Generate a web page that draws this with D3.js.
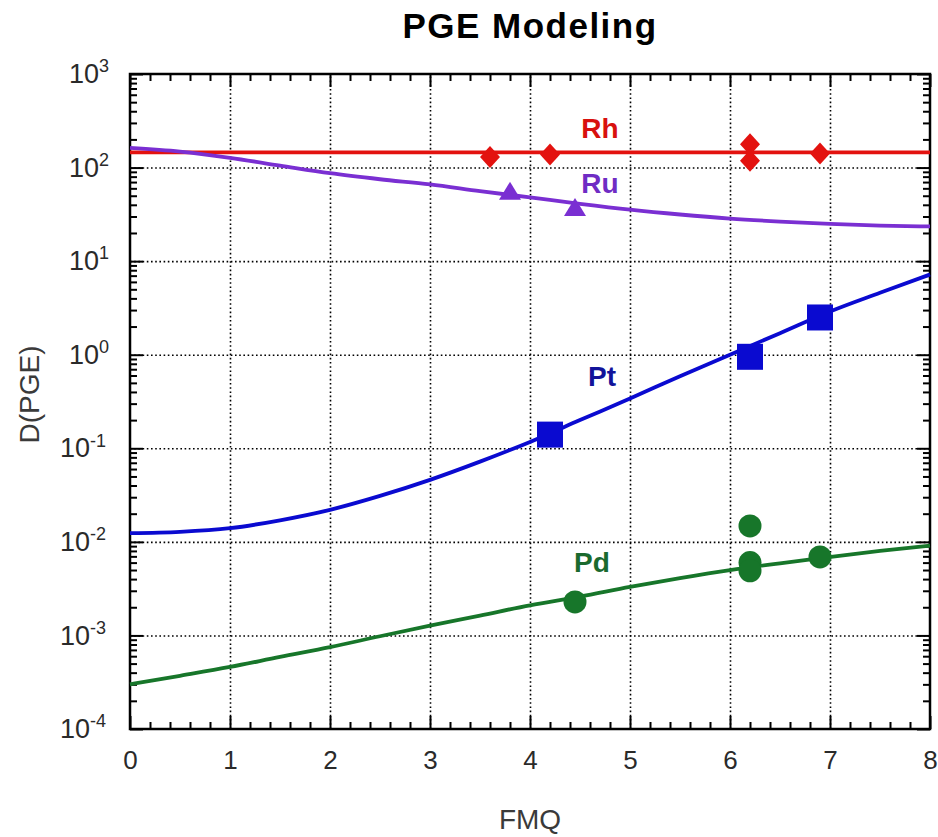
<!DOCTYPE html>
<html>
<head>
<meta charset="utf-8">
<script src="https://cdn.jsdelivr.net/npm/d3@7"></script>
<style>
  body { margin: 0; background: #fff; }
  text { font-family: "Liberation Sans", Arial, sans-serif; }
  .grid line { stroke: #000; stroke-width: 1.6; stroke-dasharray: 1.6 2.6; }
  .grid path { display: none; }
  .axis path { display: none; }
  .axis line { stroke: #000; stroke-width: 2; }
  .axis text { fill: #2a2a2a; font-size: 26px; }
</style>
</head>
<body>
<div id="chart"></div>
<script>
// Model curves (FMQ vs partition coefficient)
var fmq = [0, 0.5, 1, 1.5, 2, 2.5, 3, 3.5, 4, 4.5, 5, 5.5, 6, 6.5, 7, 7.5, 8];
var rhModel = [145, 145, 145, 145, 145, 145, 145, 145, 145, 145, 145, 145, 145, 145, 145, 145, 145];
var ruModel = [162, 148, 127, 105, 87, 75, 66, 56, 48, 41, 35.5, 31.5, 28.5, 26.5, 25, 24, 23.5];
var ptModel = [0.0124, 0.0128, 0.014, 0.017, 0.022, 0.031, 0.046, 0.072, 0.117, 0.2, 0.34, 0.59, 1.0, 1.7, 2.9, 4.6, 7.2];
var pdModel = [0.0003, 0.00037, 0.00046, 0.00059, 0.00075, 0.00098, 0.00127, 0.00163, 0.0021, 0.0026, 0.0033, 0.0041, 0.005, 0.0059, 0.0069, 0.008, 0.0091];

// Measured points
var rhX = [3.6, 4.2, 6.2, 6.2, 6.9];
var rhY = [130, 138, 178, 118, 141];
var ruX = [3.8, 4.45];
var ruY = [55, 37];
var ptX = [4.2, 6.2, 6.9];
var ptY = [0.14, 0.95, 2.5];
var pdX = [4.45, 6.2, 6.2, 6.2, 6.9];
var pdY = [0.00228, 0.0148, 0.006, 0.0049, 0.0069];

// Curve labels
var labelNames = ["Rh", "Ru", "Pt", "Pd"];
var labelX = [4.7, 4.7, 4.72, 4.62];
var labelY = [265, 68, 0.6, 0.0061];

var xTicks = [0, 1, 2, 3, 4, 5, 6, 7, 8];
var yTicks = [1e-4, 1e-3, 1e-2, 1e-1, 1, 10, 100, 1000];

var colors = {
  Rh: "#e3120f",
  Ru: "#7a2fd2",
  Pt: "#0a0ad0",
  Pd: "#17762a"
};
var labelColors = {
  Rh: "#d8110e",
  Ru: "#6f2cc4",
  Pt: "#12139a",
  Pd: "#1a6a2e"
};

var margin = { top: 74, right: 8, bottom: 108, left: 130 };
var W = 938, H = 837;
var width = W - margin.left - margin.right;
var height = H - margin.top - margin.bottom;

var svg = d3.select("#chart").append("svg")
    .attr("width", W)
    .attr("height", H);

var g = svg.append("g")
    .attr("transform", "translate(" + margin.left + "," + margin.top + ")");

var x = d3.scaleLinear().domain([0, 8]).range([0, width]);
var y = d3.scaleLog().domain([1e-4, 1e3]).range([height, 0]);

// minor ticks
var xMinor = d3.range(0, 8.01, 0.2).filter(function(v) { return Math.abs(v - Math.round(v)) > 1e-6; });
var yMinor = [];
for (var e = -4; e < 3; e++) {
  for (var m = 2; m <= 9; m++) yMinor.push(m * Math.pow(10, e));
}

// Grid
g.append("g").attr("class", "grid")
  .attr("transform", "translate(0," + height + ")")
  .call(d3.axisBottom(x).tickValues(xTicks.slice(1, -1)).tickSize(-height).tickFormat(""));
g.append("g").attr("class", "grid")
  .call(d3.axisLeft(y).tickValues(yTicks.slice(1, -1)).tickSize(-width).tickFormat(""));

// Inside ticks on all four sides
g.append("g").attr("class", "axis")
  .attr("transform", "translate(0," + height + ")")
  .call(d3.axisBottom(x).tickValues(xTicks).tickSizeInner(-13).tickPadding(22).tickFormat(d3.format("d")));
g.append("g").attr("class", "axis")
  .attr("transform", "translate(0," + height + ")")
  .call(d3.axisBottom(x).tickValues(xMinor).tickSize(-7).tickFormat(""));
g.append("g").attr("class", "axis")
  .call(d3.axisTop(x).tickValues(xTicks).tickSize(-13).tickFormat(""));
g.append("g").attr("class", "axis")
  .call(d3.axisTop(x).tickValues(xMinor).tickSize(-7).tickFormat(""));

var yAxis = g.append("g").attr("class", "axis")
  .call(d3.axisLeft(y).tickValues(yTicks).tickSizeInner(-13).tickFormat(""));
g.append("g").attr("class", "axis")
  .call(d3.axisLeft(y).tickValues(yMinor).tickSize(-7).tickFormat(""));
g.append("g").attr("class", "axis")
  .attr("transform", "translate(" + width + ",0)")
  .call(d3.axisRight(y).tickValues(yTicks).tickSize(-13).tickFormat(""));
g.append("g").attr("class", "axis")
  .attr("transform", "translate(" + width + ",0)")
  .call(d3.axisRight(y).tickValues(yMinor).tickSize(-7).tickFormat(""));

// y tick labels as 10 with superscript exponent
yAxis.selectAll(".tick text").each(function(d) {
  var t = d3.select(this);
  var ex = Math.round(Math.log10(d));
  t.text(null).attr("text-anchor", "start").attr("dy", "0.32em")
    .attr("x", ex < 0 ? -70 : -61)
    .style("font-size", "27px");
  t.append("tspan").text("10");
  t.append("tspan").attr("dy", "-0.6em").style("font-size", "18px").text(ex);
});

// Frame
g.append("rect")
  .attr("width", width)
  .attr("height", height)
  .attr("fill", "none")
  .attr("stroke", "#000")
  .attr("stroke-width", 2.5);

// Model lines
var line = d3.line()
  .x(function(d) { return x(d[0]); })
  .y(function(d) { return y(d[1]); })
  .curve(d3.curveMonotoneX);

var models = [["Rh", rhModel], ["Ru", ruModel], ["Pt", ptModel], ["Pd", pdModel]];
models.forEach(function(m) {
  g.append("path")
    .datum(fmq.map(function(v, i) { return [v, m[1][i]]; }))
    .attr("fill", "none")
    .attr("stroke", colors[m[0]])
    .attr("stroke-width", 3.8)
    .attr("d", line);
});

// Markers
function pts(xs, ys) { return xs.map(function(v, i) { return [v, ys[i]]; }); }

g.selectAll(".rh").data(pts(rhX, rhY)).enter().append("path")
  .attr("transform", function(d) { return "translate(" + x(d[0]) + "," + y(d[1]) + ")"; })
  .attr("d", "M0,-11L10,0L0,11L-10,0Z")
  .attr("fill", colors.Rh);

g.selectAll(".ru").data(pts(ruX, ruY)).enter().append("path")
  .attr("transform", function(d) { return "translate(" + x(d[0]) + "," + y(d[1]) + ")"; })
  .attr("d", "M0,-10L11,8L-11,8Z")
  .attr("fill", colors.Ru);

g.selectAll(".pt").data(pts(ptX, ptY)).enter().append("rect")
  .attr("x", function(d) { return x(d[0]) - 13; })
  .attr("y", function(d) { return y(d[1]) - 13; })
  .attr("width", 26)
  .attr("height", 26)
  .attr("fill", colors.Pt);

g.selectAll(".pd").data(pts(pdX, pdY)).enter().append("circle")
  .attr("cx", function(d) { return x(d[0]); })
  .attr("cy", function(d) { return y(d[1]); })
  .attr("r", 11.5)
  .attr("fill", colors.Pd);

// Curve labels
g.selectAll(".lbl").data(labelNames).enter().append("text")
  .attr("x", function(d, i) { return x(labelX[i]); })
  .attr("y", function(d, i) { return y(labelY[i]); })
  .attr("dy", "0.36em")
  .attr("text-anchor", "middle")
  .style("font-size", "28px")
  .style("font-weight", "bold")
  .attr("fill", function(d) { return labelColors[d]; })
  .text(function(d) { return d; });

// Title and axis titles
svg.append("text")
  .attr("x", 530)
  .attr("y", 38)
  .attr("text-anchor", "middle")
  .style("font-size", "35px")
  .style("font-weight", "bold")
  .style("letter-spacing", "1.5px")
  .attr("fill", "#000")
  .text("PGE Modeling");

svg.append("text")
  .attr("x", margin.left + width / 2)
  .attr("y", 829)
  .attr("text-anchor", "middle")
  .style("font-size", "28px")
  .attr("fill", "#3a3a3a")
  .text("FMQ");

svg.append("text")
  .attr("transform", "translate(39," + (margin.top + height / 2 - 7) + ") rotate(-90)")
  .attr("text-anchor", "middle")
  .style("font-size", "28px")
  .attr("fill", "#3a3a3a")
  .text("D(PGE)");
</script>
</body>
</html>
